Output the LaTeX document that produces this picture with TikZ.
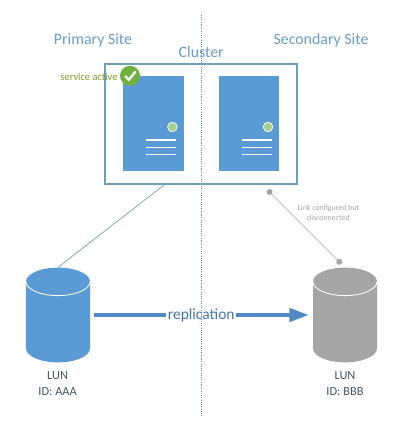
\documentclass[tikz,border=0pt]{standalone}
\usepackage{fontspec}
\setmainfont{Carlito}
\usepackage{xcolor}
\usetikzlibrary{arrows.meta,positioning,calc}
\definecolor{siteBlue}{HTML}{5B9BD5}
\definecolor{frameBlue}{HTML}{6F9FBF}
\definecolor{titleBlue}{HTML}{6A9CCB}
\definecolor{arrowBlue}{HTML}{4F8AC4}
\definecolor{lunGrey}{HTML}{A5A5A5}
\definecolor{ledGreen}{HTML}{A9D18E}
\definecolor{okGreen}{HTML}{70B03C}
\definecolor{noteOlive}{HTML}{7F9A2B}
\definecolor{labelDark}{HTML}{44546A}

\begin{document}
\begin{tikzpicture}[>=Stealth,
  srv/.style={rectangle,fill=siteBlue,minimum width=1.51cm,minimum height=2.37cm,inner sep=0pt},
  led/.style={circle,draw=white,line width=0.5pt,fill=ledGreen,minimum size=0.24cm,inner sep=0pt},
  dot/.style={circle,fill=lunGrey,minimum size=0.15cm,inner sep=0pt},
  sitetitle/.style={text=titleBlue,font=\fontsize{11.3}{13}\selectfont},
  lunlabel/.style={text=labelDark,align=center,font=\fontsize{8.8}{11.4}\selectfont},
  lundisk/.pic={
    \node[rectangle,minimum width=1.6cm,minimum height=2.37cm,inner sep=0pt] (-box) at (0,0) {};
    \fill[#1] (-0.8,0.835) arc[start angle=180,end angle=0,x radius=0.8,y radius=0.35]
      -- (0.8,-0.835) arc[start angle=0,end angle=-180,x radius=0.8,y radius=0.35] -- cycle;
    \draw[white,line width=0.6pt] (-0.8,0.835) arc[start angle=180,end angle=360,x radius=0.8,y radius=0.35];
  }]
\useasboundingbox (0,0) rectangle (10.125,10.675);
% --- sites and divider ---
\coordinate (dividerTop) at (5.04,10.3);
\coordinate (dividerBot) at (5.04,0.25);
\draw[arrowBlue,densely dotted,line width=0.6pt] (dividerTop)--(dividerBot);
\node[sitetitle] (primary) at (2.325,9.675) {Primary Site};
\node[sitetitle] (secondary) at (8.025,9.675) {Secondary Site};
\node[sitetitle] (clusterTitle) at (5.03,9.375) {Cluster};
% --- cluster with its two servers ---
\node[rectangle,draw=frameBlue,line width=1pt,minimum width=4.8cm,minimum height=3cm,inner sep=0pt] (cluster) at (5.03,7.58) {};
\node[srv] (srvA) at (3.84,7.58) {};
\node[srv] (srvB) at (6.23,7.58) {};
\node[led] (ledA) at (4.31,7.5) {};
\node[led] (ledB) at (6.70,7.5) {};
\foreach \y in {7.175,6.99,6.81} {
  \draw[white,line width=1.1pt] (3.65,\y)--(4.40,\y);
  \draw[white,line width=1.1pt] (6.05,\y)--(6.80,\y);
}
% --- service state ---
\node[circle,fill=okGreen,minimum size=0.5cm,inner sep=0pt] (okMark) at (3.25,8.78) {};
\draw[white,line width=1.6pt] (3.13,8.78)--(3.22,8.68)--(3.39,8.89);
\node[text=noteOlive,font=\fontsize{7.4}{8}\selectfont] (svcNote) at (2.225,8.75) {service active};
% --- LUNs ---
\pic (lunA) at (1.45,2.80) {lundisk=siteBlue};
\pic (lunB) at (8.625,2.80) {lundisk=lunGrey};
\node[lunlabel] (lunAText) at (1.44,1.075) {LUN\\ID: AAA};
\node[lunlabel] (lunBText) at (8.625,1.075) {LUN\\ID: BBB};
% --- links ---
\coordinate (clusterFoot) at (4.14,6.08);
\draw[frameBlue,line width=0.5pt] (clusterFoot)--(lunA-box.north);
\node[dot] (linkTop) at (6.74,5.875) {};
\node[dot] (linkBot) at (8.48,4.13) {};
\draw[lunGrey!70,line width=0.6pt] (linkTop)--(linkBot);
\node[text=lunGrey,align=center,font=\fontsize{5.6}{7}\selectfont] (linkNote) at (8.21,5.35) {Link configured but\\disconnected};
% --- replication ---
\node[text=arrowBlue!85!black,inner sep=1pt,font=\fontsize{11}{13}\selectfont] (replication) at (5.03,2.80) {replication};
\draw[arrowBlue,line width=2.2pt,shorten <=2.7pt] (lunA-box)--(replication);
\draw[arrowBlue,line width=2.2pt,shorten >=3pt,-{Triangle[length=0.48cm,width=0.34cm]}] (replication)--(lunB-box);
\end{tikzpicture}
\end{document}
